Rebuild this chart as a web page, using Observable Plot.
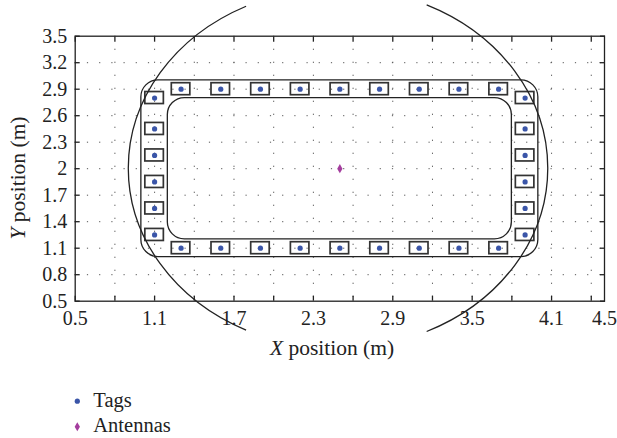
<!DOCTYPE html>
<html><head><meta charset="utf-8">
<script src="https://cdn.jsdelivr.net/npm/d3@7"></script>
<script src="https://cdn.jsdelivr.net/npm/@observablehq/plot@0.6"></script>
<style>
html,body{margin:0;padding:0;background:#fff;}
#chart{width:617px;height:438px;position:relative;overflow:hidden;font-family:"Liberation Serif",serif;}
#chart svg{display:block;}
</style></head><body><div id="chart"></div>
<script>
// ---- data ----
const topRowX = [1.3, 1.6, 1.9, 2.2, 2.5, 2.8, 3.1, 3.4, 3.7];   // tags along top edge
const topRowY = 2.9;
const bottomRowX = [1.3, 1.6, 1.9, 2.2, 2.5, 2.8, 3.1, 3.4, 3.7];
const bottomRowY = 1.1;
const sideColY = [1.25, 1.55, 1.85, 2.15, 2.45, 2.8];           // tags along left/right edges
const leftColX = 1.1;
const rightColX = 3.9;
const antennaX = [2.5];
const antennaY = [2.0];
const zoneX1 = [1.0, 1.2];   // outer / inner rounded track
const zoneX2 = [4.0, 3.8];
const zoneY1 = [1.0, 1.2];
const zoneY2 = [3.0, 2.8];
const rangeCenter = [2.49, 2.0];      // read-range ellipse centre (m)
const rangeRadii = [1.585, 2.04];     // x, y semi-axes (m)
const rangeArcs = [[116, 244], [-65, 65]]; // visible arcs, degrees
const xTickVals = [0.5, 0.8, 1.1, 1.4, 1.7, 2.0, 2.3, 2.6, 2.9, 3.2, 3.5, 3.8, 4.1, 4.4];
const xLabelVals = [0.5, 1.1, 1.7, 2.3, 2.9, 3.5, 4.1, 4.5];
const yTickVals = [0.5, 0.8, 1.1, 1.4, 1.7, 2.0, 2.3, 2.6, 2.9, 3.2, 3.5];
const xGridVals = [0.8, 1.1, 1.4, 1.7, 2.0, 2.3, 2.6, 2.9, 3.2, 3.5, 3.8, 4.1, 4.4];
const yGridVals = [0.8, 1.1, 1.4, 1.7, 2.0, 2.3, 2.6, 2.9, 3.2];
const seriesNames = ["Tags", "Antennas"];
const seriesColors = ["#3a55a8", "#a43d9e"];

// ---- build tables ----
const tags = [
  ...topRowX.map(x => ({x, y: topRowY})),
  ...bottomRowX.map(x => ({x, y: bottomRowY})),
  ...sideColY.map(y => ({x: leftColX, y})),
  ...sideColY.map(y => ({x: rightColX, y}))
];
const antennas = antennaX.map((x, i) => ({x, y: antennaY[i]}));
const zones = zoneX1.map((x1, i) => ({x1, x2: zoneX2[i], y1: zoneY1[i], y2: zoneY2[i]}));
const boxHalfW = 0.07, boxHalfH = 0.068;

const ink = "#222";
const FONT = '"Liberation Serif", "DejaVu Serif", serif';

function rangeEllipse(index, scales) {
  const {x, y} = scales;
  const cx = x(rangeCenter[0]), cy = y(rangeCenter[1]);
  const rx = x(rangeCenter[0] + rangeRadii[0]) - cx;
  const ry = cy - y(rangeCenter[1] + rangeRadii[1]);
  const g = d3.create("svg:g").attr("fill", "none").attr("stroke", ink).attr("stroke-width", 1.3);
  for (const [a0, a1] of rangeArcs) {
    const t0 = a0 * Math.PI / 180, t1 = a1 * Math.PI / 180;
    const p0 = [cx + rx * Math.cos(t0), cy - ry * Math.sin(t0)];
    const p1 = [cx + rx * Math.cos(t1), cy - ry * Math.sin(t1)];
    const large = (a1 - a0) > 180 ? 1 : 0;
    g.append("path").attr("d", `M${p0[0]},${p0[1]}A${rx},${ry} 0 ${large} 0 ${p1[0]},${p1[1]}`);
  }
  return g.node();
}

const W = 617, H = 370;
const plot = Plot.plot({
  width: W, height: H,
  marginLeft: 74.7, marginRight: 13, marginTop: 35.7, marginBottom: H - 300.7,
  x: {domain: [0.5, 4.5]},
  y: {domain: [0.5, 3.5]},
  style: {fontFamily: FONT, fontSize: "20px", color: ink, background: "white", overflow: "visible"},
  marks: [
    Plot.gridX(xGridVals, {stroke: "#555", strokeOpacity: 1, strokeWidth: 1, strokeDasharray: "1.2,11.8"}),
    Plot.gridY(yGridVals, {stroke: "#555", strokeOpacity: 1, strokeWidth: 1, strokeDasharray: "1.2,11"}),
    Plot.frame({stroke: ink, strokeWidth: 1.3}),
    Plot.axisX(xTickVals, {anchor: "bottom", tickSize: -5, fill: "none", label: null, stroke: ink, strokeWidth: 1.3}),
    Plot.axisX(xTickVals, {anchor: "top", tickSize: -5, fill: "none", label: null, stroke: ink, strokeWidth: 1.3}),
    Plot.axisY(yTickVals, {anchor: "left", tickSize: -5, fill: "none", label: null, stroke: ink, strokeWidth: 1.3}),
    Plot.axisY(yTickVals, {anchor: "right", tickSize: -5, fill: "none", label: null, stroke: ink, strokeWidth: 1.3}),
    Plot.axisX(xLabelVals, {anchor: "bottom", tickSize: 0, tickPadding: 10, label: null, fill: ink, fontSize: 20, tickFormat: d => String(d)}),
    Plot.axisY(yTickVals, {anchor: "left", tickSize: 0, tickPadding: 8, label: null, fill: ink, fontSize: 20, tickFormat: d => String(d)}),
    Plot.rect(zones, {x1: "x1", x2: "x2", y1: "y1", y2: "y2", rx: 17, stroke: ink, strokeWidth: 1.3, fill: "none"}),
    Plot.rect(tags, {x1: d => d.x - boxHalfW, x2: d => d.x + boxHalfW, y1: d => d.y - boxHalfH, y2: d => d.y + boxHalfH,
      stroke: "#333", strokeWidth: 1.7, fill: "none"}),
    Plot.dot(tags, {x: "x", y: "y", r: 2.6, fill: seriesColors[0], stroke: "none"}),
    Plot.dot(antennas, {x: "x", y: "y", r: 2.8, symbol: "diamond", fill: seriesColors[1], stroke: "none"}),
    rangeEllipse
  ]
});

// axis titles with italic variable letters
const svg = d3.select(plot);
const xt = svg.append("text").attr("x", 332).attr("y", 355).attr("text-anchor", "middle")
  .attr("font-family", FONT).attr("font-size", 21.5).attr("fill", ink);
xt.append("tspan").attr("font-style", "italic").text("X");
xt.append("tspan").text(" position (m)");
const yt = svg.append("text").attr("transform", "translate(25,178) rotate(-90)").attr("text-anchor", "middle")
  .attr("font-family", FONT).attr("font-size", 21.5).attr("fill", ink);
yt.append("tspan").attr("font-style", "italic").text("Y");
yt.append("tspan").text(" position (m)");

const chart = document.getElementById("chart");
chart.appendChild(plot);

// legend below
const leg = d3.create("svg").attr("width", W).attr("height", 438 - H);
seriesNames.forEach((name, i) => {
  const base = 36.7 + i * 25;
  if (i === 0) leg.append("circle").attr("cx", 77.3).attr("cy", base - 5.5).attr("r", 2.6).attr("fill", seriesColors[i]);
  else leg.append("path").attr("d", d3.symbol(d3.symbolDiamond, 24)()).attr("transform", `translate(77.3,${base - 5})`).attr("fill", seriesColors[i]);
  leg.append("text").attr("x", 93.3).attr("y", base).attr("font-family", FONT).attr("font-size", 20.5).attr("fill", ink).text(name);
});
chart.appendChild(leg.node());
</script></body></html>
